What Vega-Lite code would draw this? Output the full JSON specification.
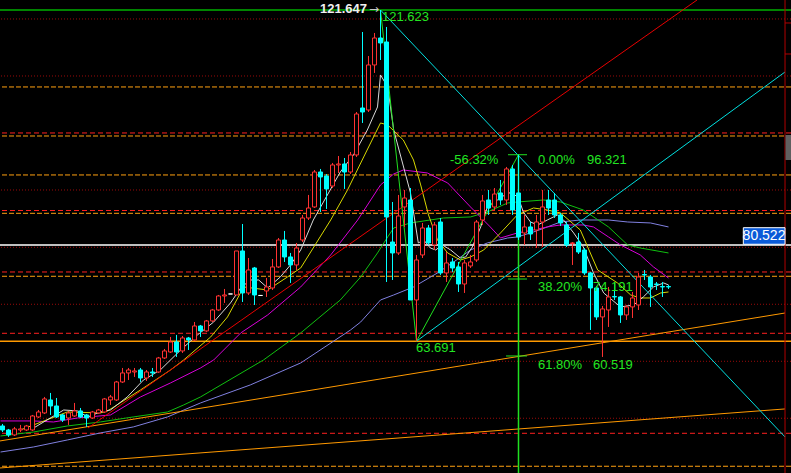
{
  "$schema": "https://vega.github.io/schema/vega-lite/v6.json",
  "width": 791,
  "height": 473,
  "autosize": {"type": "none"},
  "padding": 0,
  "background": "#000000",
  "config": {"view": {"stroke": null}, "scale": {"continuousPadding": 0}},
  "datasets": {
    "candles": [
      {"i":0,"o":48.85,"h":49.20,"l":47.80,"c":48.15},
      {"i":1,"o":48.15,"h":48.33,"l":46.93,"c":47.28},
      {"i":2,"o":47.28,"h":48.68,"l":47.10,"c":48.33},
      {"i":3,"o":48.15,"h":49.03,"l":47.80,"c":48.33},
      {"i":4,"o":48.15,"h":49.03,"l":47.98,"c":48.85},
      {"i":5,"o":48.15,"h":50.78,"l":47.98,"c":50.60},
      {"i":6,"o":50.43,"h":51.65,"l":50.25,"c":51.30},
      {"i":7,"o":51.13,"h":53.93,"l":50.95,"c":53.58},
      {"i":8,"o":53.40,"h":54.63,"l":50.78,"c":52.35},
      {"i":9,"o":52.35,"h":53.75,"l":50.25,"c":50.43},
      {"i":10,"o":50.78,"h":50.95,"l":49.55,"c":49.90},
      {"i":11,"o":50.25,"h":51.48,"l":49.03,"c":51.13},
      {"i":12,"o":50.60,"h":52.88,"l":50.43,"c":51.48},
      {"i":13,"o":51.48,"h":52.00,"l":50.25,"c":50.43},
      {"i":14,"o":50.78,"h":50.95,"l":48.68,"c":50.25},
      {"i":15,"o":50.25,"h":51.48,"l":50.08,"c":51.30},
      {"i":16,"o":51.13,"h":51.83,"l":50.95,"c":51.65},
      {"i":17,"o":51.30,"h":53.75,"l":51.13,"c":53.58},
      {"i":18,"o":53.40,"h":54.28,"l":52.53,"c":53.93},
      {"i":19,"o":53.40,"h":56.73,"l":53.23,"c":56.55},
      {"i":20,"o":56.55,"h":59.00,"l":56.38,"c":58.13},
      {"i":21,"o":58.13,"h":59.00,"l":56.90,"c":58.65},
      {"i":22,"o":58.30,"h":59.00,"l":57.43,"c":58.48},
      {"i":23,"o":58.65,"h":59.00,"l":56.55,"c":57.25},
      {"i":24,"o":57.25,"h":58.65,"l":56.73,"c":58.30},
      {"i":25,"o":58.30,"h":59.00,"l":57.43,"c":58.13},
      {"i":26,"o":58.30,"h":60.93,"l":58.13,"c":60.75},
      {"i":27,"o":60.75,"h":62.33,"l":60.58,"c":61.98},
      {"i":28,"o":61.80,"h":64.43,"l":61.63,"c":63.55},
      {"i":29,"o":63.55,"h":64.78,"l":60.93,"c":61.80},
      {"i":30,"o":61.98,"h":64.60,"l":61.63,"c":64.25},
      {"i":31,"o":64.25,"h":64.43,"l":62.15,"c":63.90},
      {"i":32,"o":63.90,"h":67.05,"l":63.73,"c":66.35},
      {"i":33,"o":66.35,"h":66.53,"l":64.43,"c":65.48},
      {"i":34,"o":65.48,"h":67.40,"l":65.30,"c":67.23},
      {"i":35,"o":67.23,"h":69.33,"l":67.05,"c":69.15},
      {"i":36,"o":69.15,"h":71.78,"l":68.98,"c":71.60},
      {"i":37,"o":71.60,"h":72.83,"l":70.38,"c":71.78},
      {"i":38,"o":71.95,"h":71.95,"l":71.95,"c":71.95},
      {"i":39,"o":71.78,"h":79.48,"l":71.78,"c":79.48},
      {"i":40,"o":79.48,"h":84.20,"l":70.55,"c":72.13},
      {"i":41,"o":72.13,"h":78.25,"l":71.78,"c":76.15},
      {"i":42,"o":76.50,"h":76.68,"l":70.03,"c":71.78},
      {"i":43,"o":71.69,"h":71.69,"l":71.69,"c":71.69},
      {"i":44,"o":72.48,"h":74.75,"l":71.43,"c":73.18},
      {"i":45,"o":73.00,"h":78.08,"l":72.65,"c":76.68},
      {"i":46,"o":76.68,"h":81.75,"l":76.50,"c":81.40},
      {"i":47,"o":81.40,"h":82.98,"l":77.55,"c":78.43},
      {"i":48,"o":78.43,"h":79.13,"l":73.88,"c":77.03},
      {"i":49,"o":77.03,"h":80.88,"l":76.15,"c":80.00},
      {"i":50,"o":81.40,"h":85.78,"l":81.05,"c":85.25},
      {"i":51,"o":85.25,"h":89.28,"l":84.90,"c":87.00},
      {"i":52,"o":87.18,"h":93.65,"l":87.00,"c":93.30},
      {"i":53,"o":93.30,"h":93.83,"l":86.30,"c":92.43},
      {"i":54,"o":92.60,"h":92.95,"l":86.83,"c":90.33},
      {"i":55,"o":90.85,"h":94.88,"l":90.50,"c":94.53},
      {"i":56,"o":94.53,"h":96.10,"l":93.13,"c":94.70},
      {"i":57,"o":94.70,"h":95.75,"l":90.33,"c":93.30},
      {"i":58,"o":93.30,"h":96.80,"l":92.95,"c":96.28},
      {"i":59,"o":96.28,"h":103.80,"l":95.93,"c":103.45},
      {"i":60,"o":104.50,"h":117.80,"l":101.88,"c":103.80},
      {"i":61,"o":104.15,"h":113.60,"l":103.80,"c":112.03},
      {"i":62,"o":112.03,"h":117.63,"l":110.63,"c":116.75},
      {"i":63,"o":116.75,"h":121.647,"l":112.90,"c":115.88},
      {"i":64,"o":116.05,"h":118.68,"l":74.05,"c":85.43},
      {"i":65,"o":81.05,"h":88.05,"l":74.40,"c":79.13},
      {"i":66,"o":79.13,"h":89.28,"l":78.78,"c":85.60},
      {"i":67,"o":87.18,"h":90.15,"l":83.68,"c":88.75},
      {"i":68,"o":88.40,"h":90.50,"l":70.90,"c":70.90},
      {"i":69,"o":70.90,"h":78.78,"l":63.691,"c":77.90},
      {"i":70,"o":78.78,"h":84.38,"l":78.25,"c":83.50},
      {"i":71,"o":83.50,"h":84.03,"l":80.53,"c":80.88},
      {"i":72,"o":80.53,"h":84.55,"l":79.65,"c":84.03},
      {"i":73,"o":84.55,"h":85.25,"l":75.28,"c":75.63},
      {"i":74,"o":75.63,"h":79.30,"l":74.05,"c":77.38},
      {"i":75,"o":77.55,"h":78.25,"l":75.80,"c":76.50},
      {"i":76,"o":76.68,"h":77.55,"l":72.30,"c":73.70},
      {"i":77,"o":73.70,"h":77.90,"l":72.13,"c":77.38},
      {"i":78,"o":76.85,"h":78.78,"l":76.50,"c":77.55},
      {"i":79,"o":77.90,"h":84.90,"l":77.55,"c":84.55},
      {"i":80,"o":84.90,"h":89.28,"l":84.03,"c":88.23},
      {"i":81,"o":88.40,"h":90.15,"l":85.78,"c":87.00},
      {"i":82,"o":87.18,"h":90.50,"l":86.65,"c":89.45},
      {"i":83,"o":89.63,"h":91.90,"l":87.53,"c":88.40},
      {"i":84,"o":88.40,"h":94.18,"l":87.53,"c":93.83},
      {"i":85,"o":93.83,"h":94.53,"l":85.78,"c":86.65},
      {"i":86,"o":89.63,"h":96.321,"l":81.40,"c":81.93},
      {"i":87,"o":82.63,"h":85.78,"l":80.53,"c":83.68},
      {"i":88,"o":83.68,"h":84.55,"l":81.40,"c":82.45},
      {"i":89,"o":83.15,"h":85.78,"l":80.00,"c":84.55},
      {"i":90,"o":84.55,"h":90.15,"l":80.18,"c":87.18},
      {"i":91,"o":88.40,"h":90.15,"l":85.78,"c":87.00},
      {"i":92,"o":88.40,"h":89.63,"l":85.25,"c":85.78},
      {"i":93,"o":85.78,"h":86.13,"l":83.85,"c":84.38},
      {"i":94,"o":84.03,"h":84.55,"l":80.18,"c":80.53},
      {"i":95,"o":80.79,"h":81.05,"l":77.03,"c":80.88},
      {"i":96,"o":81.05,"h":82.63,"l":78.95,"c":79.30},
      {"i":97,"o":79.65,"h":80.00,"l":75.28,"c":75.63},
      {"i":98,"o":75.63,"h":75.80,"l":65.65,"c":73.00},
      {"i":99,"o":73.00,"h":73.35,"l":67.40,"c":67.93},
      {"i":100,"o":67.93,"h":69.85,"l":60.93,"c":69.33},
      {"i":101,"o":69.15,"h":73.18,"l":66.18,"c":71.43},
      {"i":102,"o":71.51,"h":73.88,"l":70.90,"c":71.43},
      {"i":103,"o":71.43,"h":71.60,"l":66.88,"c":68.28},
      {"i":104,"o":68.28,"h":70.03,"l":67.40,"c":69.68},
      {"i":105,"o":69.68,"h":72.30,"l":67.75,"c":71.25},
      {"i":106,"o":70.03,"h":75.63,"l":69.15,"c":74.93},
      {"i":107,"o":75.36,"h":76.15,"l":74.40,"c":75.28},
      {"i":108,"o":74.93,"h":75.28,"l":69.68,"c":73.18},
      {"i":109,"o":73.70,"h":74.05,"l":72.65,"c":73.61},
      {"i":110,"o":73.26,"h":74.05,"l":71.43,"c":73.18},
      {"i":111,"o":73.26,"h":73.53,"l":72.83,"c":73.18}
    ],
    "ma": [
      {"s":"MA60","i":-0.33,"v":44.29},{"s":"MA60","i":5.2,"v":45.18},{"s":"MA60","i":10.8,"v":46.40},{"s":"MA60","i":16.3,"v":47.63},{"s":"MA60","i":21.8,"v":48.68},{"s":"MA60","i":27.5,"v":50.43},{"s":"MA60","i":33,"v":52.88},{"s":"MA60","i":41.3,"v":56.03},{"s":"MA60","i":49.7,"v":59.88},{"s":"MA60","i":58,"v":65.65},{"s":"MA60","i":59.7,"v":67.05},{"s":"MA60","i":63,"v":70.90},{"s":"MA60","i":65.2,"v":71.78},{"s":"MA60","i":68.5,"v":73.18},{"s":"MA60","i":72.5,"v":75.63},{"s":"MA60","i":75.2,"v":77.55},{"s":"MA60","i":78,"v":79.65},{"s":"MA60","i":80.8,"v":80.88},{"s":"MA60","i":84.2,"v":81.75},{"s":"MA60","i":85.8,"v":81.93},{"s":"MA60","i":88.5,"v":82.80},{"s":"MA60","i":90.8,"v":83.68},{"s":"MA60","i":93,"v":84.55},{"s":"MA60","i":96.3,"v":84.90},{"s":"MA60","i":101,"v":84.90},{"s":"MA60","i":104.2,"v":84.55},{"s":"MA60","i":108,"v":84.38},{"s":"MA60","i":111,"v":83.68},
      {"s":"MA30","i":-0.33,"v":47.10},{"s":"MA30","i":5.2,"v":47.80},{"s":"MA30","i":10.8,"v":48.85},{"s":"MA30","i":16.3,"v":49.55},{"s":"MA30","i":21.8,"v":50.43},{"s":"MA30","i":27.5,"v":51.30},{"s":"MA30","i":30.2,"v":52.53},{"s":"MA30","i":33,"v":53.93},{"s":"MA30","i":43.5,"v":60.40},{"s":"MA30","i":49.7,"v":65.13},{"s":"MA30","i":56.3,"v":70.90},{"s":"MA30","i":59.7,"v":74.93},{"s":"MA30","i":62.5,"v":79.13},{"s":"MA30","i":64.2,"v":81.93},{"s":"MA30","i":65.2,"v":83.50},{"s":"MA30","i":68,"v":84.38},{"s":"MA30","i":73.5,"v":85.25},{"s":"MA30","i":78,"v":85.43},{"s":"MA30","i":80.8,"v":86.30},{"s":"MA30","i":84.2,"v":87.88},{"s":"MA30","i":85.8,"v":88.05},{"s":"MA30","i":90.2,"v":88.40},{"s":"MA30","i":93,"v":88.05},{"s":"MA30","i":96.8,"v":86.65},{"s":"MA30","i":101,"v":83.68},{"s":"MA30","i":104.2,"v":80.53},{"s":"MA30","i":106.3,"v":80.00},{"s":"MA30","i":111,"v":79.13},
      {"s":"MA20","i":-0.33,"v":49.73},{"s":"MA20","i":5.2,"v":49.73},{"s":"MA20","i":8.5,"v":49.55},{"s":"MA20","i":12.5,"v":50.25},{"s":"MA20","i":18,"v":50.78},{"s":"MA20","i":23,"v":53.93},{"s":"MA20","i":28,"v":56.38},{"s":"MA20","i":33,"v":59.00},{"s":"MA20","i":35.2,"v":60.40},{"s":"MA20","i":39.7,"v":65.13},{"s":"MA20","i":44.2,"v":68.28},{"s":"MA20","i":49.7,"v":73.18},{"s":"MA20","i":54.7,"v":78.78},{"s":"MA20","i":59.2,"v":84.90},{"s":"MA20","i":63,"v":91.03},{"s":"MA20","i":65.2,"v":92.95},{"s":"MA20","i":66.8,"v":93.65},{"s":"MA20","i":70.8,"v":93.13},{"s":"MA20","i":74.2,"v":91.38},{"s":"MA20","i":78,"v":87.18},{"s":"MA20","i":81.3,"v":83.68},{"s":"MA20","i":83,"v":81.75},{"s":"MA20","i":85.8,"v":82.63},{"s":"MA20","i":88.5,"v":83.15},{"s":"MA20","i":90.8,"v":83.68},{"s":"MA20","i":93,"v":84.03},{"s":"MA20","i":96.8,"v":84.03},{"s":"MA20","i":98.5,"v":83.68},{"s":"MA20","i":101,"v":81.93},{"s":"MA20","i":103,"v":80.53},{"s":"MA20","i":106.3,"v":78.78},{"s":"MA20","i":108.5,"v":76.68},{"s":"MA20","i":111,"v":74.75},
      {"s":"MA10","i":3,"v":48.15},{"s":"MA10","i":10.8,"v":51.30},{"s":"MA10","i":16.3,"v":51.13},{"s":"MA10","i":17.5,"v":51.48},{"s":"MA10","i":23,"v":55.15},{"s":"MA10","i":28,"v":58.65},{"s":"MA10","i":30.2,"v":60.40},{"s":"MA10","i":34.7,"v":64.43},{"s":"MA10","i":37.5,"v":67.93},{"s":"MA10","i":40.2,"v":73.18},{"s":"MA10","i":44.2,"v":72.65},{"s":"MA10","i":47.5,"v":74.93},{"s":"MA10","i":49.7,"v":76.50},{"s":"MA10","i":54.7,"v":84.90},{"s":"MA10","i":57.5,"v":90.15},{"s":"MA10","i":60.2,"v":95.93},{"s":"MA10","i":63,"v":101.88},{"s":"MA10","i":64.2,"v":101.53},{"s":"MA10","i":66.8,"v":98.90},{"s":"MA10","i":68.5,"v":95.40},{"s":"MA10","i":69.7,"v":91.03},{"s":"MA10","i":71,"v":85.78},{"s":"MA10","i":72.5,"v":81.40},{"s":"MA10","i":74.2,"v":79.13},{"s":"MA10","i":76.3,"v":77.90},{"s":"MA10","i":78,"v":78.43},{"s":"MA10","i":80.2,"v":79.65},{"s":"MA10","i":83,"v":82.63},{"s":"MA10","i":85.8,"v":85.78},{"s":"MA10","i":88.5,"v":87.00},{"s":"MA10","i":90.8,"v":86.65},{"s":"MA10","i":93,"v":86.13},{"s":"MA10","i":96.3,"v":83.15},{"s":"MA10","i":99.2,"v":76.15},{"s":"MA10","i":102.5,"v":73.88},{"s":"MA10","i":104.7,"v":71.78},{"s":"MA10","i":106.3,"v":71.25},{"s":"MA10","i":108,"v":71.25},{"s":"MA10","i":109.7,"v":72.13},{"s":"MA10","i":111,"v":72.30},
      {"s":"MA5","i":5.2,"v":48.50},{"s":"MA5","i":10.2,"v":51.65},{"s":"MA5","i":12.5,"v":51.48},{"s":"MA5","i":14.2,"v":50.43},{"s":"MA5","i":16.3,"v":51.30},{"s":"MA5","i":18,"v":51.65},{"s":"MA5","i":20.8,"v":53.93},{"s":"MA5","i":23.5,"v":56.90},{"s":"MA5","i":26.3,"v":58.65},{"s":"MA5","i":29.7,"v":62.15},{"s":"MA5","i":32.5,"v":64.78},{"s":"MA5","i":35.2,"v":67.05},{"s":"MA5","i":38,"v":70.38},{"s":"MA5","i":39.7,"v":73.00},{"s":"MA5","i":41.3,"v":74.40},{"s":"MA5","i":42.7,"v":74.40},{"s":"MA5","i":44.2,"v":73.00},{"s":"MA5","i":46.3,"v":74.93},{"s":"MA5","i":48,"v":77.03},{"s":"MA5","i":49.7,"v":79.65},{"s":"MA5","i":51.8,"v":84.90},{"s":"MA5","i":56.3,"v":93.30},{"s":"MA5","i":58.5,"v":96.28},{"s":"MA5","i":60.8,"v":100.65},{"s":"MA5","i":62.5,"v":104.68},{"s":"MA5","i":63,"v":110.28},{"s":"MA5","i":64.2,"v":108.18},{"s":"MA5","i":65.2,"v":100.65},{"s":"MA5","i":68,"v":89.63},{"s":"MA5","i":69.3,"v":80.88},{"s":"MA5","i":70.2,"v":81.40},{"s":"MA5","i":71.3,"v":80.00},{"s":"MA5","i":72.2,"v":79.65},{"s":"MA5","i":73.3,"v":80.53},{"s":"MA5","i":74.7,"v":79.65},{"s":"MA5","i":76.3,"v":78.25},{"s":"MA5","i":77.2,"v":78.43},{"s":"MA5","i":78.3,"v":80.18},{"s":"MA5","i":79.7,"v":83.68},{"s":"MA5","i":80.8,"v":87.18},{"s":"MA5","i":82.5,"v":88.40},{"s":"MA5","i":84.2,"v":89.63},{"s":"MA5","i":85,"v":89.63},{"s":"MA5","i":86,"v":88.75},{"s":"MA5","i":86.8,"v":86.30},{"s":"MA5","i":88,"v":84.55},{"s":"MA5","i":89.2,"v":84.03},{"s":"MA5","i":90.8,"v":84.90},{"s":"MA5","i":92.5,"v":85.78},{"s":"MA5","i":93.5,"v":84.90},{"s":"MA5","i":95.2,"v":82.63},{"s":"MA5","i":96.8,"v":80.18},{"s":"MA5","i":98.5,"v":75.63},{"s":"MA5","i":100.2,"v":72.13},{"s":"MA5","i":103,"v":69.68},{"s":"MA5","i":105.2,"v":70.03},{"s":"MA5","i":106.8,"v":71.43},{"s":"MA5","i":108.5,"v":73.18},{"s":"MA5","i":110.2,"v":73.88},{"s":"MA5","i":111,"v":73.53}
    ],
    "trend": [
      {"line":"baseB","i":-0.42,"p":41.50},{"line":"baseB","i":130.42,"p":51.83},
      {"line":"baseA","i":-0.42,"p":46.23},{"line":"baseA","i":130.42,"p":68.62},
      {"line":"channel","i":14.25,"p":48.50},{"line":"channel","i":115.75,"p":123.40},
      {"line":"fall","i":63,"p":121.647},{"line":"fall","i":130.42,"p":46.93},
      {"line":"rise","i":69,"p":63.691},{"line":"rise","i":130.42,"p":110.80},
      {"line":"wave","i":63,"p":121.647},{"line":"wave","i":69,"p":63.691},{"line":"wave","i":86,"p":96.321}
    ],
    "dotted": [{"p":120.08},{"p":110.10},{"p":90.15},{"p":80.12},{"p":70.15},{"p":60.17},{"p":50.20}],
    "redDash": [{"p":100.13},{"p":86.56},{"p":75.80},{"p":65.07},{"p":47.57}],
    "orangeDash": [{"p":108.18},{"p":99.60},{"p":92.78},{"p":86.07},{"p":75.05},{"p":41.80}],
    "fibTicks": [{"a":84.25,"b":87.42,"p":96.321},{"a":84.25,"b":87.42,"p":74.57},{"a":83.92,"b":87.42,"p":61.10}],
    "edgeTicks": [{"a":130.42,"b":131.42,"p":119.38},{"a":130.42,"b":131.42,"p":113.95}],
    "greenText": [
      {"i":63.25,"p":120.43,"t":"121.623"},
      {"i":68.92,"p":62.50,"t":"63.691"},
      {"i":74.58,"p":95.40,"t":"-56.32%"},
      {"i":89.25,"p":95.40,"t":"0.00%"},
      {"i":97.42,"p":95.40,"t":"96.321"},
      {"i":89.25,"p":73.18,"t":"38.20%"},
      {"i":98.42,"p":73.18,"t":"74.191"},
      {"i":89.25,"p":59.53,"t":"61.80%"},
      {"i":98.42,"p":59.53,"t":"60.519"}
    ]
  },
  "layer": [
    {
      "data": {"name": "dotted"},
      "mark": {"type": "rule", "color": "#9a0a0a", "strokeWidth": 1, "strokeDash": [1, 2]},
      "encoding": {"y": {"field": "p", "type": "quantitative", "scale": {"domain": [40.62, 123.4], "nice": false, "zero": false, "padding": 0}, "axis": null}}
    },
    {
      "data": {"name": "redDash"},
      "mark": {"type": "rule", "color": "#ff2020", "strokeWidth": 1, "strokeDash": [5, 3]},
      "encoding": {"y": {"field": "p", "type": "quantitative", "scale": {"domain": [40.62, 123.4], "nice": false, "zero": false, "padding": 0}, "axis": null}}
    },
    {
      "data": {"name": "orangeDash"},
      "mark": {"type": "rule", "color": "#ffa010", "strokeWidth": 1, "strokeDash": [5, 2]},
      "encoding": {"y": {"field": "p", "type": "quantitative", "scale": {"domain": [40.62, 123.4], "nice": false, "zero": false, "padding": 0}, "axis": null}}
    },
    {
      "data": {"values": [{"p": 121.647}]},
      "mark": {"type": "rule", "color": "#00b000", "strokeWidth": 1.5},
      "encoding": {"y": {"field": "p", "type": "quantitative", "scale": {"domain": [40.62, 123.4], "nice": false, "zero": false, "padding": 0}, "axis": null}}
    },
    {
      "data": {"values": [{"p": 80.522}]},
      "mark": {"type": "rule", "color": "#ffffff", "strokeWidth": 1.5},
      "encoding": {"y": {"field": "p", "type": "quantitative", "scale": {"domain": [40.62, 123.4], "nice": false, "zero": false, "padding": 0}, "axis": null}}
    },
    {
      "data": {"values": [{"p": 63.691}]},
      "mark": {"type": "rule", "color": "#ff9900", "strokeWidth": 1.5},
      "encoding": {"y": {"field": "p", "type": "quantitative", "scale": {"domain": [40.62, 123.4], "nice": false, "zero": false, "padding": 0}, "axis": null}}
    },
    {
      "data": {"name": "ma"},
      "mark": {"type": "line", "strokeWidth": 1, "clip": true},
      "encoding": {
        "x": {"field": "i", "type": "quantitative", "scale": {"domain": [-0.4167, 131.4167], "nice": false, "zero": false, "padding": 0}, "axis": null},
        "y": {"field": "v", "type": "quantitative", "scale": {"domain": [40.62, 123.4], "nice": false, "zero": false, "padding": 0}, "axis": null},
        "color": {"field": "s", "type": "nominal", "legend": null, "scale": {"domain": ["MA60", "MA30", "MA20", "MA10", "MA5"], "range": ["#8080e0", "#10c010", "#d800d8", "#d8d800", "#d8d8d8"]}},
        "order": {"field": "i", "type": "quantitative"}
      }
    },
    {
      "data": {"name": "trend"},
      "mark": {"type": "line", "strokeWidth": 1, "clip": true},
      "encoding": {
        "x": {"field": "i", "type": "quantitative", "scale": {"domain": [-0.4167, 131.4167], "nice": false, "zero": false, "padding": 0}, "axis": null},
        "y": {"field": "p", "type": "quantitative", "scale": {"domain": [40.62, 123.4], "nice": false, "zero": false, "padding": 0}, "axis": null},
        "detail": {"field": "line", "type": "nominal"},
        "stroke": {"field": "line", "type": "nominal", "legend": null, "scale": {"domain": ["baseA", "baseB", "channel", "fall", "rise", "wave"], "range": ["#ff9900", "#ff9900", "#e80000", "#00e0e0", "#00e0e0", "#20e020"]}},
        "order": {"field": "i", "type": "quantitative"}
      }
    },
    {
      "data": {"values": [{"i": 86, "p": 96.321, "q": 40.0}]},
      "mark": {"type": "rule", "color": "#20e020", "strokeWidth": 1.5, "clip": true},
      "encoding": {
        "x": {"field": "i", "type": "quantitative", "scale": {"domain": [-0.4167, 131.4167], "nice": false, "zero": false, "padding": 0}, "axis": null},
        "y": {"field": "p", "type": "quantitative", "scale": {"domain": [40.62, 123.4], "nice": false, "zero": false, "padding": 0}, "axis": null},
        "y2": {"field": "q"}
      }
    },
    {
      "data": {"name": "fibTicks"},
      "mark": {"type": "rule", "color": "#20e020", "strokeWidth": 1},
      "encoding": {
        "x": {"field": "a", "type": "quantitative", "scale": {"domain": [-0.4167, 131.4167], "nice": false, "zero": false, "padding": 0}, "axis": null},
        "x2": {"field": "b"},
        "y": {"field": "p", "type": "quantitative", "scale": {"domain": [40.62, 123.4], "nice": false, "zero": false, "padding": 0}, "axis": null}
      }
    },
    {
      "data": {"name": "candles"},
      "mark": {"type": "rule", "strokeWidth": 1},
      "encoding": {
        "x": {"field": "i", "type": "quantitative", "scale": {"domain": [-0.4167, 131.4167], "nice": false, "zero": false, "padding": 0}, "axis": null},
        "y": {"field": "l", "type": "quantitative", "scale": {"domain": [40.62, 123.4], "nice": false, "zero": false, "padding": 0}, "axis": null},
        "y2": {"field": "h"},
        "color": {"condition": [{"test": "datum.c > datum.o", "value": "#ff3232"}, {"test": "datum.c < datum.o", "value": "#00ffff"}], "value": "#ffffff"}
      }
    },
    {
      "data": {"name": "candles"},
      "mark": {"type": "bar", "size": 4, "strokeWidth": 1},
      "encoding": {
        "x": {"field": "i", "type": "quantitative", "scale": {"domain": [-0.4167, 131.4167], "nice": false, "zero": false, "padding": 0}, "axis": null},
        "y": {"field": "o", "type": "quantitative", "scale": {"domain": [40.62, 123.4], "nice": false, "zero": false, "padding": 0}, "axis": null},
        "y2": {"field": "c"},
        "fill": {"condition": [{"test": "datum.c > datum.o", "value": "#000000"}, {"test": "datum.c < datum.o", "value": "#00ffff"}], "value": "#ffffff"},
        "stroke": {"condition": [{"test": "datum.c > datum.o", "value": "#ff3232"}, {"test": "datum.c < datum.o", "value": "#00ffff"}], "value": "#ffffff"}
      }
    },
    {
      "data": {"values": [{"i": 130.42}]},
      "mark": {"type": "rule", "color": "#b00000", "strokeWidth": 1},
      "encoding": {"x": {"field": "i", "type": "quantitative", "scale": {"domain": [-0.4167, 131.4167], "nice": false, "zero": false, "padding": 0}, "axis": null}}
    },
    {
      "data": {"name": "edgeTicks"},
      "mark": {"type": "rule", "color": "#b00000", "strokeWidth": 1},
      "encoding": {
        "x": {"field": "a", "type": "quantitative", "scale": {"domain": [-0.4167, 131.4167], "nice": false, "zero": false, "padding": 0}, "axis": null},
        "x2": {"field": "b"},
        "y": {"field": "p", "type": "quantitative", "scale": {"domain": [40.62, 123.4], "nice": false, "zero": false, "padding": 0}, "axis": null}
      }
    },
    {
      "data": {"values": [{"a": 130.5, "b": 131.42, "p": 99.78, "q": 95.40}]},
      "mark": {"type": "rect", "fill": "#606060"},
      "encoding": {
        "x": {"field": "a", "type": "quantitative", "scale": {"domain": [-0.4167, 131.4167], "nice": false, "zero": false, "padding": 0}, "axis": null},
        "x2": {"field": "b"},
        "y": {"field": "p", "type": "quantitative", "scale": {"domain": [40.62, 123.4], "nice": false, "zero": false, "padding": 0}, "axis": null},
        "y2": {"field": "q"}
      }
    },
    {
      "data": {"values": [{"a": 123.47, "b": 130.42, "p": 83.55, "q": 80.65}]},
      "mark": {"type": "rect", "fill": "#0a5ad8", "stroke": "#ffffff", "strokeWidth": 1},
      "encoding": {
        "x": {"field": "a", "type": "quantitative", "scale": {"domain": [-0.4167, 131.4167], "nice": false, "zero": false, "padding": 0}, "axis": null},
        "x2": {"field": "b"},
        "y": {"field": "p", "type": "quantitative", "scale": {"domain": [40.62, 123.4], "nice": false, "zero": false, "padding": 0}, "axis": null},
        "y2": {"field": "q"}
      }
    },
    {
      "data": {"values": [{"i": 126.92, "p": 82.10, "t": "80.522"}]},
      "mark": {"type": "text", "color": "#ffffff", "font": "Liberation Sans", "fontSize": 14, "align": "center", "baseline": "middle"},
      "encoding": {
        "x": {"field": "i", "type": "quantitative", "scale": {"domain": [-0.4167, 131.4167], "nice": false, "zero": false, "padding": 0}, "axis": null},
        "y": {"field": "p", "type": "quantitative", "scale": {"domain": [40.62, 123.4], "nice": false, "zero": false, "padding": 0}, "axis": null},
        "text": {"field": "t"}
      }
    },
    {
      "data": {"name": "greenText"},
      "mark": {"type": "text", "color": "#22e622", "font": "Liberation Sans", "fontSize": 13, "align": "left", "baseline": "middle"},
      "encoding": {
        "x": {"field": "i", "type": "quantitative", "scale": {"domain": [-0.4167, 131.4167], "nice": false, "zero": false, "padding": 0}, "axis": null},
        "y": {"field": "p", "type": "quantitative", "scale": {"domain": [40.62, 123.4], "nice": false, "zero": false, "padding": 0}, "axis": null},
        "text": {"field": "t"}
      }
    },
    {
      "data": {"values": [{"i": 60.75, "p": 121.83, "t": "121.647"}]},
      "mark": {"type": "text", "color": "#f0f0f0", "font": "Liberation Sans", "fontSize": 13, "fontWeight": "bold", "align": "right", "baseline": "middle"},
      "encoding": {
        "x": {"field": "i", "type": "quantitative", "scale": {"domain": [-0.4167, 131.4167], "nice": false, "zero": false, "padding": 0}, "axis": null},
        "y": {"field": "p", "type": "quantitative", "scale": {"domain": [40.62, 123.4], "nice": false, "zero": false, "padding": 0}, "axis": null},
        "text": {"field": "t"}
      }
    },
    {
      "data": {"values": [{"i": 61.92, "p": 121.83, "t": "→"}]},
      "mark": {"type": "text", "color": "#c8c8c8", "font": "DejaVu Sans", "fontSize": 12, "align": "center", "baseline": "middle"},
      "encoding": {
        "x": {"field": "i", "type": "quantitative", "scale": {"domain": [-0.4167, 131.4167], "nice": false, "zero": false, "padding": 0}, "axis": null},
        "y": {"field": "p", "type": "quantitative", "scale": {"domain": [40.62, 123.4], "nice": false, "zero": false, "padding": 0}, "axis": null},
        "text": {"field": "t"}
      }
    }
  ]
}
